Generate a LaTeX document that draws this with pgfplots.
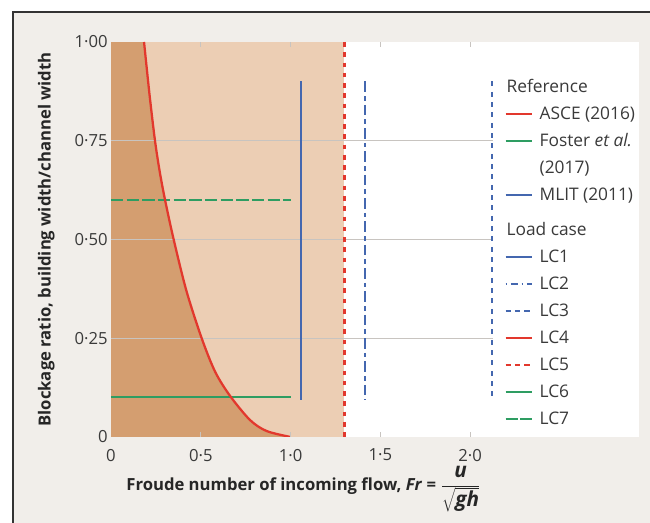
\documentclass[border=0pt]{standalone}
\usepackage{fontspec}
\setmainfont{Open Sans}
\usepackage{pgfplots}
\pgfplotsset{compat=1.18}
\definecolor{bgc}{HTML}{F1EEEA}
\definecolor{darkf}{HTML}{D49E70}
\definecolor{lightf}{HTML}{ECCEB4}
\definecolor{cred}{HTML}{E2382D}
\definecolor{cgreen}{HTML}{2E9D62}
\definecolor{cblue}{HTML}{4467AF}
\definecolor{gridc}{HTML}{C8C4C0}
\definecolor{txt}{HTML}{3A3A3A}
\begin{document}
\begin{tikzpicture}
\fill[white] (-83.25pt,-64.5pt) rectangle (404.25pt,327.75pt);
\fill[bgc] (-73.5pt,-64.5pt) rectangle (404.25pt,318.75pt);
\draw[line width=1.1pt, black!80] (-73.5pt,-64.5pt) -- (-73.5pt,318.75pt) -- (404.25pt,318.75pt);
\begin{axis}[
 scale only axis, width=396pt, height=296.25pt,
 xmin=0, xmax=2.94, ymin=0, ymax=1,
 axis background/.style={fill=white},
 axis line style={draw=none},
 axis on top,
 xtick={0.5,1,1.5,2}, xticklabels={0·5,1·0,1·5,2·0},
 extra x ticks={0}, extra x tick labels={0}, extra x tick style={major tick length=0pt},
 ytick={0,0.25,0.5,0.75,1}, yticklabels={0,0·25,0·50,0·75,1·00},
 tick align=inside, major tick length=3.75pt,
 xtick style={gridc, line width=0.8pt},
 ytick style={draw=none},
 tick label style={font=\fontsize{12.5}{15}\selectfont, text=txt},
 xticklabel style={yshift=-5.5pt},
 yticklabel style={xshift=1pt},
 xlabel={Froude number of incoming flow, \textit{Fr} = {\fontsize{15.5}{18}\selectfont$\displaystyle\frac{\textbf{\textit{u}}}{\sqrt{\textbf{\textit{gh}}}}$}},
 ylabel={Blockage ratio, building width/channel width},
 label style={font=\bfseries\fontsize{12.5}{15}\selectfont, text=black!85},
 xlabel style={at={(axis description cs:0.3646,-0.136)}, anchor=base},
 ylabel style={at={(axis description cs:-0.1142,0.5)}, anchor=base},
 legend image code/.code={\draw[#1] (0pt,4.8pt) -- (20pt,4.8pt);},
 legend style={at={(0.745,0.9205)}, anchor=north west, draw=none, fill=white,
   inner sep=0pt, row sep=0pt, column sep=4.75pt,
   font=\fontsize{13}{15}\selectfont, text=txt,
   cells={anchor=base west}, nodes={inner sep=0pt, text height=14.5pt, text depth=5.75pt}},
]
% shaded regions
\addplot[fill=lightf, draw=none, forget plot] coordinates {(0,0)(0,1)(1.3,1)(1.3,0)} --cycle;
\addplot[fill=darkf, draw=none, forget plot] coordinates {(0,0)(0,1)(0.1845,1)(0.1845,0)} --cycle;
\addplot[smooth, fill=darkf, draw=none, forget plot] coordinates {
 (0.184,1.0)(0.215,0.865)(0.245,0.75)(0.272,0.67)(0.301,0.60)(0.349,0.50)(0.42,0.37)
 (0.505,0.25)(0.58,0.165)(0.663,0.104)(0.774,0.043)(0.867,0.015)(1.0,0)} \closedcycle;
% grid lines
\addplot[gridc, line width=1.1pt, forget plot] coordinates {(0,0.25)(2.125,0.25)};
\addplot[gridc, line width=1.1pt, forget plot] coordinates {(0,0.5)(2.125,0.5)};
\addplot[gridc, line width=1.1pt, forget plot] coordinates {(0,0.75)(2.125,0.75)};
% LC6, LC7
\addplot[cgreen, line width=1.5pt, forget plot] coordinates {(0,0.1)(1.0,0.1)};
\addplot[cgreen, line width=1.5pt, dash pattern=on 9.25pt off 2.5pt, forget plot] coordinates {(0,0.6)(1.0,0.6)};
% LC1, LC2, LC3
\addplot[cblue, line width=1.5pt, forget plot] coordinates {(1.06,0.094)(1.06,0.9)};
\addplot[cblue, line width=1.5pt, dash pattern=on 8pt off 3pt on 3.5pt off 3pt, forget plot] coordinates {(1.415,0.9)(1.415,0.094)};
\addplot[cblue, line width=1.5pt, dash pattern=on 3.75pt off 4pt, forget plot] coordinates {(2.124,0.9)(2.124,0.094)};
% LC5
\addplot[cred, line width=1.8pt, dash pattern=on 3.5pt off 4.2pt, forget plot] coordinates {(1.3,1)(1.3,0)};
% ASCE / LC4 curve
\addplot[cred, line width=1.7pt, smooth, forget plot] coordinates {
 (0.184,1.0)(0.215,0.865)(0.245,0.75)(0.272,0.67)(0.301,0.60)(0.349,0.50)(0.42,0.37)
 (0.505,0.25)(0.58,0.165)(0.663,0.104)(0.774,0.043)(0.867,0.015)(1.0,0)};
% legend
\addlegendimage{empty legend}\addlegendentry{\hspace{-24.75pt}Reference}
\addlegendimage{cred, line width=1.5pt}\addlegendentry{ASCE (2016)}
\addlegendimage{cgreen, line width=1.5pt}\addlegendentry{Foster \textit{et al.}}
\addlegendimage{empty legend}\addlegendentry{(2017)}
\addlegendimage{cblue, line width=1.5pt}\addlegendentry{MLIT (2011)}
\addlegendimage{empty legend}\addlegendentry[text height=20.5pt]{\hspace{-24.75pt}Load case}
\addlegendimage{cblue, line width=1.5pt}\addlegendentry{LC1}
\addlegendimage{cblue, line width=1.5pt, dash pattern=on 1pt off 3pt on 5pt off 3pt}\addlegendentry{LC2}
\addlegendimage{cblue, line width=1.5pt, dash pattern=on 4pt off 3pt}\addlegendentry{LC3}
\addlegendimage{cred, line width=1.5pt}\addlegendentry{LC4}
\addlegendimage{cred, line width=1.5pt, dash pattern=on 4pt off 3pt}\addlegendentry{LC5}
\addlegendimage{cgreen, line width=1.5pt}\addlegendentry{LC6}
\addlegendimage{cgreen, line width=1.5pt, dash pattern=on 9pt off 2pt}\addlegendentry{LC7}
\end{axis}
\pgfresetboundingbox
\useasboundingbox (-83.25pt,-64.5pt) rectangle (404.25pt,327.75pt);
\end{tikzpicture}
\end{document}
